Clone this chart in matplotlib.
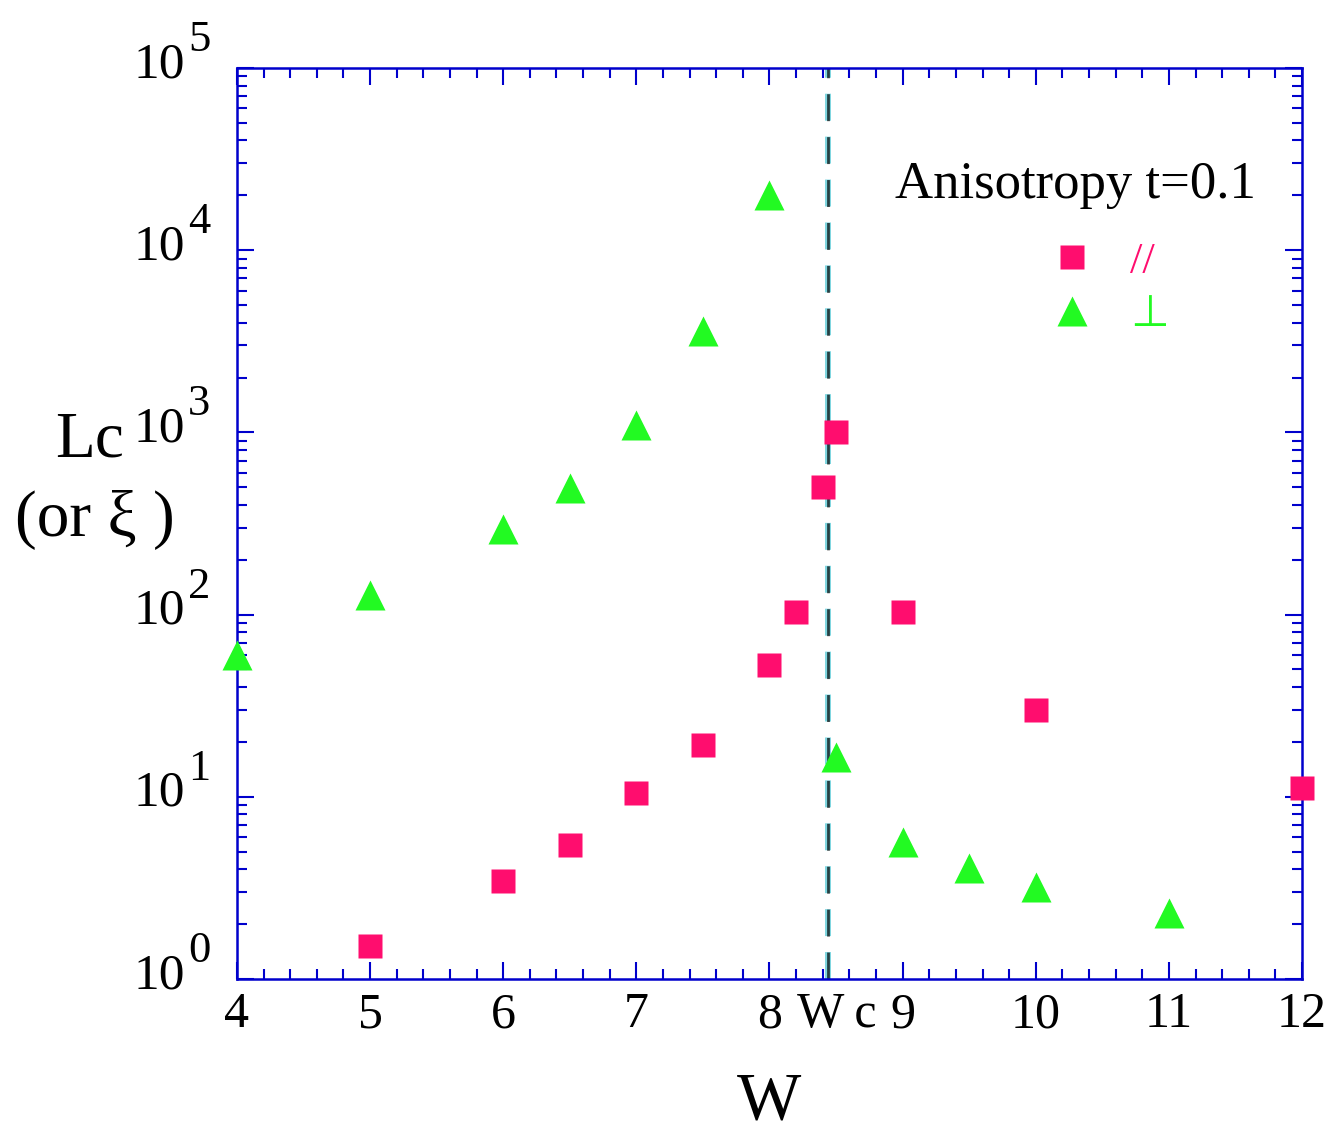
import numpy as np
import matplotlib
matplotlib.use("Agg")
import matplotlib.pyplot as plt
from matplotlib.ticker import LogLocator, FixedLocator, MultipleLocator, NullFormatter

plt.rcParams['font.family'] = ['Liberation Serif', 'DejaVu Sans']
plt.rcParams['lines.scale_dashes'] = False

# Data
w_par = [5, 6, 6.5, 7, 7.5, 8, 8.2, 8.4, 8.5, 9, 10, 12]
lc_par = [1.52, 3.45, 5.45, 10.5, 19.2, 53, 103, 500, 1000, 103, 30, 11.2]

w_perp = [4, 5, 6, 6.5, 7, 7.5, 8, 8.5, 9, 9.5, 10, 11]
lc_perp = [60, 128, 295, 495, 1100, 3600, 20000, 16.5, 5.65, 4.07, 3.2, 2.3]

w_c = 8.44
x_ticks = [4, 5, 6, 7, 8, 9, 10, 11, 12]
y_exps = [0, 1, 2, 3, 4, 5]

pink = '#ff0d6e'
green = '#22fa22'
blue = '#0000cc'

fig = plt.figure(figsize=(13.35, 11.33), dpi=100)
ax = fig.add_axes([0.1775, 0.1359, 0.7978, 0.8041])

# critical disorder line (cyan dashes with dark texture)
ax.axvline(w_c, color='#7fd6e0', lw=4.3, dashes=(19.4, 11.5), zorder=1)
ax.axvline(w_c, color='black', lw=2.0, dashes=(19.4, 11.5), alpha=0.7, zorder=1.1)

ax.plot(w_par, lc_par, 's', color=pink, ms=17, mec='none', label='//', clip_on=False, zorder=3)
ax.plot(w_perp, lc_perp, '^', color=green, ms=21, mec='none', label='\u22a5', clip_on=False, zorder=3)

ax.set_yscale('log')
ax.set_xlim(4, 12)
ax.set_ylim(1, 1e5)

ax.xaxis.set_major_locator(FixedLocator(x_ticks))
ax.xaxis.set_minor_locator(MultipleLocator(0.2))
ax.yaxis.set_major_locator(FixedLocator([10.0 ** e for e in y_exps]))
ax.yaxis.set_minor_locator(LogLocator(base=10, subs=np.arange(2, 10), numticks=20))
ax.yaxis.set_major_formatter(NullFormatter())
ax.yaxis.set_minor_formatter(NullFormatter())

for s in ax.spines.values():
    s.set_color(blue)
    s.set_linewidth(1.8)
ax.tick_params(which='both', direction='in', top=True, right=True, color=blue, width=1.5)
ax.tick_params(which='major', length=12.5)
ax.tick_params(which='minor', length=7)
ax.tick_params(axis='x', which='major', labelsize=36, pad=9)

# y tick labels: "10" with a large exponent, as in the original
for e in y_exps:
    ax.annotate('10', xy=(0, 10.0 ** e), xycoords=('axes fraction', 'data'),
                xytext=(-37.4, -6.5), textcoords='offset points',
                fontsize=37, ha='right', va='baseline', annotation_clip=False)
    ax.annotate(str(e), xy=(0, 10.0 ** e), xycoords=('axes fraction', 'data'),
                xytext=(-35.3, 12.2), textcoords='offset points',
                fontsize=32, ha='left', va='baseline', annotation_clip=False)

ax.set_xlabel('W', fontsize=49, labelpad=24)
# y label, two lines
fig.text(0.0674, 0.611, 'Lc', fontsize=47, ha='center', va='center')
fig.text(0.0712, 0.541, '(or \u03be )', fontsize=47, ha='center', va='center')

ax.annotate('W\u2009c', xy=(w_c, 0), xycoords=('data', 'axes fraction'),
            xytext=(6, -9), textcoords='offset points', fontsize=36,
            ha='center', va='top', annotation_clip=False)

ax.text(0.787, 0.8716, 'Anisotropy t=0.1', transform=ax.transAxes, fontsize=38,
        ha='center', va='center')

leg = ax.legend(loc='upper left', bbox_to_anchor=(0.726, 0.853), frameon=False,
                fontsize=32, handletextpad=0.8, labelspacing=0.3, handlelength=1,
                labelcolor='markerfacecolor')

fig.savefig('out.png', dpi=100)
